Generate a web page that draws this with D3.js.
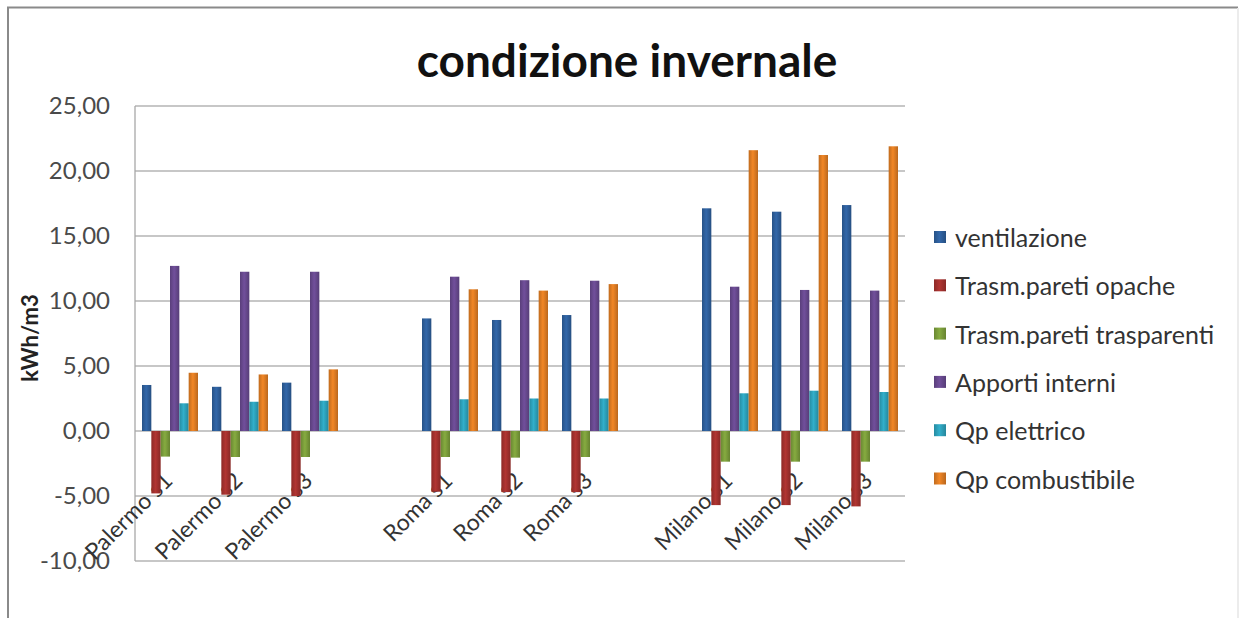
<!DOCTYPE html>
<html><head><meta charset="utf-8">
<script src="https://cdn.jsdelivr.net/npm/d3@7"></script>
<style>
html,body{margin:0;padding:0;background:#fff;}
svg{display:block;font-family:Lato,"Open Sans",sans-serif;}
</style></head>
<body>
<svg id="chart" width="1247" height="618"></svg>
<script>
const categories = ["Palermo s1","Palermo s2","Palermo s3","","Roma s1","Roma s2","Roma s3","","Milano s1","Milano s2","Milano s3"];
const seriesNames = ["ventilazione","Trasm.pareti opache","Trasm.pareti trasparenti","Apporti interni","Qp elettrico","Qp combustibile"];
const ventilazione   = [3.54, 3.40, 3.72, null, 8.66, 8.54, 8.92, null, 17.13, 16.87, 17.38];
const pareti_opache  = [-4.80, -4.90, -5.00, null, -4.67, -4.70, -4.70, null, -5.70, -5.70, -5.80];
const pareti_trasp   = [-1.97, -2.00, -2.00, null, -2.00, -2.05, -2.00, null, -2.36, -2.36, -2.36];
const apporti        = [12.70, 12.25, 12.25, null, 11.87, 11.60, 11.56, null, 11.10, 10.85, 10.80];
const qp_elettrico   = [2.13, 2.25, 2.33, null, 2.44, 2.50, 2.50, null, 2.90, 3.10, 3.00];
const qp_combust     = [4.48, 4.35, 4.74, null, 10.90, 10.80, 11.30, null, 21.60, 21.23, 21.90];
const yTicks = [-10, -5, 0, 5, 10, 15, 20, 25];
const titleText = "condizione invernale";
const yTitle = "kWh/m3";
const colors = ["#2f62a0","#a8322f","#7fa23d","#6b4b93","#2fa6c0","#e58024"];

const seriesValues = [ventilazione, pareti_opache, pareti_trasp, apporti, qp_elettrico, qp_combust];

const svg = d3.select("#chart");
const W = 1247, H = 618;
const plot = {left:135, right:905, top:106, bottom:561};

// chart border
svg.append("path")
  .attr("d", `M8,${H} L8,7.5 L1238,7.5`)
  .attr("fill","none").attr("stroke","#8a8a8a").attr("stroke-width",2);
svg.append("line").attr("x1",1238).attr("x2",1238).attr("y1",8).attr("y2",H)
  .attr("stroke","#ececec").attr("stroke-width",2);

// gradients
const defs = svg.append("defs");
colors.forEach((c,i)=>{
  const g = defs.append("linearGradient").attr("id","g"+i).attr("x1","0").attr("x2","1").attr("y1","0").attr("y2","0");
  const base = d3.color(c);
  g.append("stop").attr("offset","0").attr("stop-color", base.darker(0.5));
  g.append("stop").attr("offset","0.45").attr("stop-color", base.brighter(0.15));
  g.append("stop").attr("offset","1").attr("stop-color", base.darker(0.6));
});

const x = d3.scaleBand().domain(d3.range(categories.length)).range([plot.left, plot.right]).paddingInner(0).paddingOuter(0);
const y = d3.scaleLinear().domain([-10, 25]).range([plot.bottom, plot.top]);
const bw = x.bandwidth();
const barW = bw / 7.5;
const xs = d3.scaleBand().domain(d3.range(seriesNames.length))
  .range([ (bw - barW*6)/2, (bw - barW*6)/2 + barW*6 ]);

// gridlines
svg.append("g").selectAll("line").data(yTicks).join("line")
  .attr("x1", plot.left).attr("x2", plot.right)
  .attr("y1", d=>y(d)).attr("y2", d=>y(d))
  .attr("stroke", "#b4b4b4").attr("stroke-width", 1.3);

// y axis line
svg.append("line").attr("x1",plot.left).attr("x2",plot.left).attr("y1",plot.top).attr("y2",plot.bottom)
  .attr("stroke","#a8a8a8").attr("stroke-width",1.3);

// y tick labels
const yAxis = d3.axisLeft(y).tickValues(yTicks).tickSize(0).tickPadding(25)
  .tickFormat(d => d3.format(".2f")(d).replace(".", ",").replace("\u2212", "-"));
const ya = svg.append("g").attr("transform",`translate(${plot.left},0)`).call(yAxis);
ya.select(".domain").remove();
ya.selectAll("text").attr("font-size", 24).attr("fill", "#4a4a4a").attr("font-family","Lato, sans-serif");

// y title
svg.append("text").attr("transform","translate(38,338) rotate(-90)")
  .attr("text-anchor","middle").attr("font-size",22).attr("font-weight","bold").attr("fill","#222")
  .text(yTitle);

// x labels (drawn before bars so bars overlap them)
svg.append("g").selectAll("text").data(categories.map((c,i)=>({c,i})).filter(d=>d.c!=="")).join("text")
  .attr("transform", d=>`translate(${x(d.i)+bw/2+4},482) rotate(-45)`)
  .attr("text-anchor","end").attr("font-size",23).attr("fill","#333")
  .text(d=>d.c);

// bars
seriesValues.forEach((vals, s)=>{
  svg.append("g").selectAll("rect")
    .data(vals.map((v,i)=>({v,i})).filter(d=>d.v!==null))
    .join("rect")
    .attr("x", d=>x(d.i)+xs(s))
    .attr("width", barW)
    .attr("y", d=>y(Math.max(0,d.v)))
    .attr("height", d=>Math.abs(y(d.v)-y(0)))
    .attr("fill", `url(#g${s})`);
});

// title
svg.append("text").attr("x", 627).attr("y", 77).attr("text-anchor","middle")
  .attr("font-size", 46).attr("font-weight","bold").attr("fill","#111").text(titleText);

// legend
const leg = svg.append("g").selectAll("g").data(seriesNames).join("g")
  .attr("transform",(d,i)=>`translate(934,${237 + i*48.3})`);
leg.append("rect").attr("x",0).attr("y",-6).attr("width",12).attr("height",12)
  .attr("fill",(d,i)=>`url(#g${i})`);
leg.append("text").attr("x",21).attr("y",0).attr("dominant-baseline","central")
  .attr("font-size",25).attr("fill","#333").text(d=>d);
</script>
</body></html>
